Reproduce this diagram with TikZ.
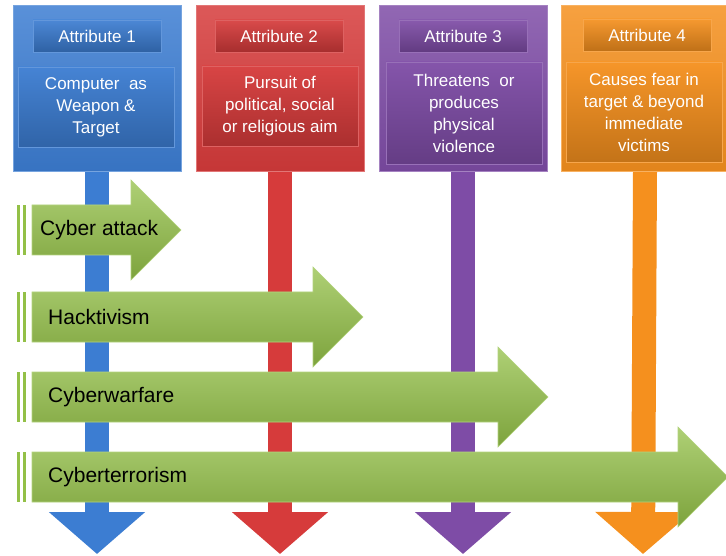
\documentclass[tikz,border=0pt]{standalone}
\usepackage{fontspec}
\setmainfont{Liberation Sans}
\usetikzlibrary{arrows.meta,backgrounds}

\definecolor{attrblue}{HTML}{3C7DD2}
\definecolor{attrred}{HTML}{D63B3B}
\definecolor{attrpurple}{HTML}{7E4CA6}
\definecolor{attrorange}{HTML}{F5901E}
\definecolor{kindgreen}{HTML}{93C047}

\begin{document}
\begin{tikzpicture}[x=1pt, y=-1pt,
    attr/.style={rectangle, anchor=north, minimum width=168pt, minimum height=166pt,
        inner sep=0pt, top color=#1!85!white, bottom color=#1!92!black, draw=#1!70!white, line width=0.6pt},
    title/.style={rectangle, minimum width=128pt, minimum height=32pt, inner sep=0pt,
        top color=#1!92!white, bottom color=#1!78!black, draw=#1!80!white, line width=0.5pt,
        text=white, font=\fontsize{17}{20}\selectfont},
    desc/.style={rectangle, minimum width=156pt, inner sep=0pt, align=center,
        top color=#1!95!white, bottom color=#1!80!black, draw=#1!80!white, line width=0.5pt,
        text=white, font=\fontsize{17}{22}\selectfont},
    shaft/.style={line width=24pt, #1, -{Triangle[width=94pt, length=42pt]}},
    kind/.style={top color=kindgreen!75!white, bottom color=kindgreen!85!black, draw=kindgreen!70!white, line width=0.6pt},
    kindlabel/.style={anchor=west, inner sep=0pt, font=\fontsize{21}{25}\selectfont}
]
\useasboundingbox (0,0) rectangle (726,556);

% attribute boxes
\node[attr=attrblue] (a1) at (97,5) {};
\node[attr=attrred] (a2) at (280,5) {};
\node[attr=attrpurple] (a3) at (463,5) {};
\node[attr=attrorange] (a4) at (645,5) {};

\node[title=attrblue] (t1) at (97,36) {Attribute 1};
\node[title=attrred] (t2) at (279,36) {Attribute 2};
\node[title=attrpurple] (t3) at (463,36) {Attribute 3};
\node[title=attrorange] (t4) at (647,35) {Attribute 4};

\node[desc=attrblue, minimum height=80pt] (d1) at (96,107) {Computer~ as\\Weapon \&\\Target};
\node[desc=attrred, minimum height=80pt] (d2) at (280,106) {Pursuit of\\political, social\\or religious aim};
\node[desc=attrpurple, minimum height=102pt] (d3) at (464,113) {Threatens~ or\\produces\\physical\\violence};
\node[desc=attrorange, minimum height=100pt] (d4) at (644,112) {Causes fear in\\target \& beyond\\immediate\\victims};

% ends of the downward arrows
\coordinate (e1) at (97,554);
\coordinate (e2) at (280,554);
\coordinate (e3) at (463,554);
\coordinate (e4) at (643,554);

\begin{scope}[on background layer]
\draw[shaft=attrblue] (a1.south) -- (e1);
\draw[shaft=attrred] (a2.south) -- (e2);
\draw[shaft=attrpurple] (a3.south) -- (e3);
\draw[shaft=attrorange] (a4.south) -- (e4);
\end{scope}

% green arrows
\foreach \y/\tip in {230/181, 317/363, 397/548, 477/728} {
    \fill[kindgreen] (17,\y-25) rectangle (20,\y+25);
    \fill[kindgreen] (23,\y-25) rectangle (26,\y+25);
    \path[kind] (32,\y-25) -- (\tip-50,\y-25) -- (\tip-50,\y-50) -- (\tip,\y)
        -- (\tip-50,\y+50) -- (\tip-50,\y+25) -- (32,\y+25) -- cycle;
}

\node[kindlabel] (k1) at (40,230) {Cyber attack};
\node[kindlabel] (k2) at (48,317) {Hacktivism};
\node[kindlabel] (k3) at (48,397) {Cyberwarfare};
\node[kindlabel] (k4) at (48,477) {Cyberterrorism};
\end{tikzpicture}
\end{document}
